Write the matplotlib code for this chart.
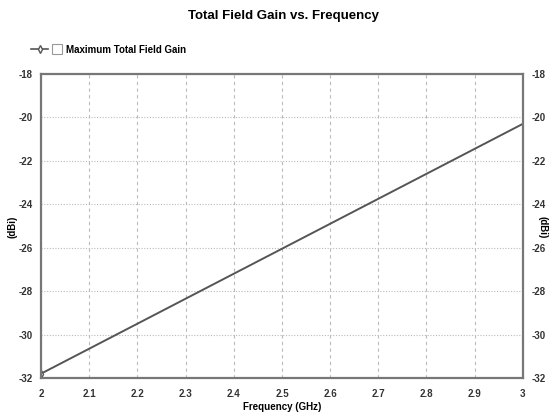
import matplotlib.pyplot as plt
from matplotlib.lines import Line2D
from matplotlib.legend_handler import HandlerTuple

plt.rcParams['font.family'] = ['Liberation Sans Narrow', 'Liberation Sans', 'DejaVu Sans']
plt.rcParams['font.stretch'] = 'condensed'
plt.rcParams['axes.unicode_minus'] = False

# Maximum total field gain over the sweep
freq_ghz = [2.0, 2.1, 2.2, 2.3, 2.4, 2.5, 2.6, 2.7, 2.8, 2.9, 3.0]
gain_dbi = [-31.8, -30.65, -29.5, -28.35, -27.2, -26.05, -24.9, -23.75, -22.6, -21.45, -20.3]

x_ticks = [2, 2.1, 2.2, 2.3, 2.4, 2.5, 2.6, 2.7, 2.8, 2.9, 3]
x_labels = ['2', '2.1', '2.2', '2.3', '2.4', '2.5', '2.6', '2.7', '2.8', '2.9', '3']
y_ticks = [-32, -30, -28, -26, -24, -22, -20, -18]

fig = plt.figure(figsize=(5.55, 4.2), dpi=100)
ax = fig.add_axes([0.074, 0.10, 0.868, 0.724])

line_col = '#555555'
ax.plot(freq_ghz, gain_dbi, color=line_col, lw=1.4, marker='d', ms=4,
        markevery=[0], markerfacecolor='white', markeredgecolor=line_col)

ax.set_xlim(2, 3)
ax.set_ylim(-32, -18)
ax.set_xticks(x_ticks)
ax.set_xticklabels(x_labels)
ax.set_yticks(y_ticks)

# dashed vertical, dotted horizontal grid
ax.xaxis.grid(True, linestyle=(0, (3, 3)), color='#bbbbbb', lw=0.8)
ax.yaxis.grid(True, linestyle=(0, (1, 1.5)), color='#bbbbbb', lw=0.8)

for s in ax.spines.values():
    s.set_color('#777777')
    s.set_linewidth(1.6)

tick_font = 7
ax.tick_params(axis='both', length=0, labelsize=tick_font, colors='#333333')
ax.tick_params(axis='y', pad=6)
ax.tick_params(axis='x', pad=8)
for lbl in ax.get_xticklabels() + ax.get_yticklabels():
    lbl.set_fontweight('bold')

ax.set_xlabel('Frequency (GHz)', fontsize=7, fontweight='bold', labelpad=2)

ax2 = ax.twinx()
ax2.set_ylim(-32, -18)
ax2.set_yticks(y_ticks)
ax2.tick_params(axis='y', length=0, labelsize=tick_font, colors='#333333', pad=6)
for lbl in ax2.get_yticklabels():
    lbl.set_fontweight('bold')
for s in ax2.spines.values():
    s.set_visible(False)

# unit labels on both sides
fig.text(0.022, 0.46, '(dBi)', rotation=90, ha='center', va='center',
         fontsize=7, fontweight='bold')
fig.text(0.977, 0.46, '(dBi)', rotation=270, ha='center', va='center',
         fontsize=7, fontweight='bold')

fig.suptitle('Total Field Gain vs. Frequency', x=0.51, y=0.975,
             fontsize=9.5, fontweight='bold')

# legend: line with diamond, then an empty checkbox
handle = Line2D([], [], color=line_col, lw=1.2, marker='d', ms=4,
                markerfacecolor='white', markeredgecolor=line_col)
box = Line2D([], [], ls='none', marker='s', ms=6.5,
             markerfacecolor='white', markeredgecolor='#999999', markeredgewidth=0.8)
fig.legend([(handle, box)], ['Maximum Total Field Gain'],
           handler_map={tuple: HandlerTuple(ndivide=None, pad=0.0)},
           loc='upper left', bbox_to_anchor=(0.04, 0.915), frameon=False,
           handlelength=3.6, handleheight=1.2, handletextpad=0.0,
           prop={'weight': 'bold', 'size': 7, 'stretch': 'condensed'})

fig.savefig('out.png', dpi=100)
